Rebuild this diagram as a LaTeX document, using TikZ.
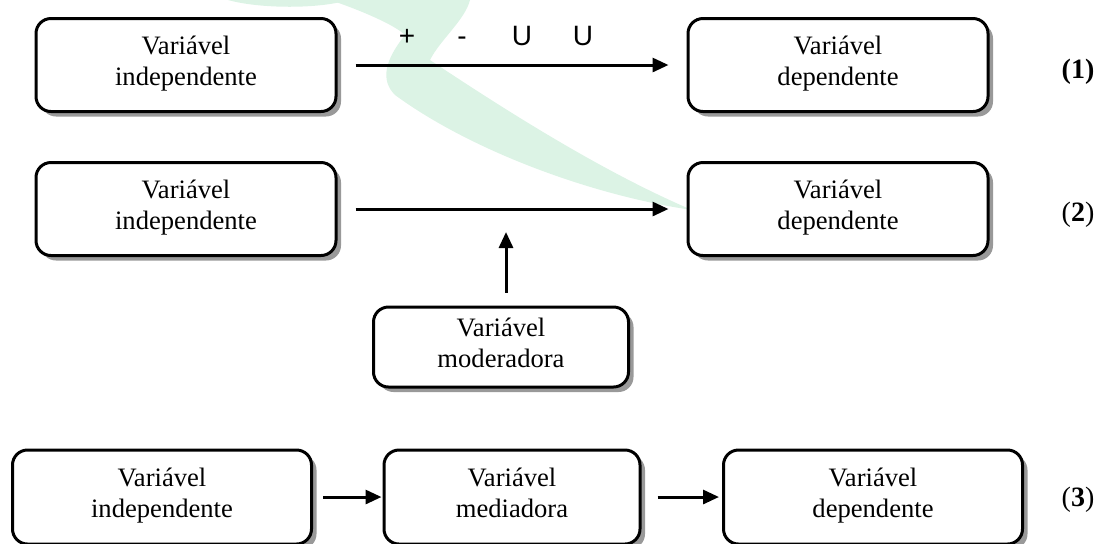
\documentclass[tikz,border=0pt]{standalone}
\usepackage{fontspec}
\setmainfont{Liberation Serif}
\newfontfamily\signfont{Liberation Sans}
\usetikzlibrary{positioning, shadows, arrows.meta}
\definecolor{wmgreen}{RGB}{220,243,229}

\begin{document}
\begin{tikzpicture}[x=0.5pt, y=-0.5pt,
    var/.style={draw, line width=1.5pt, rounded corners=7.5pt, fill=white, align=center,
      font=\fontsize{13.3}{15.5}\selectfont, inner sep=0pt,
      execute at begin node=\strut, execute at end node=\strut,
      drop shadow={shadow xshift=2.5pt, shadow yshift=-2.5pt, fill=black!40, opacity=1}},
    wide/.style={minimum width=150pt, minimum height=46.5pt},
    link/.style={-{Triangle[length=8pt, width=7pt]}, line width=1.5pt},
    sign/.style={font=\signfont\fontsize{14}{16}\selectfont, anchor=base, inner sep=0pt},
    tag/.style={font=\fontsize{14}{16}\selectfont}]
      \useasboundingbox (0,0) rectangle (1102,543);

      % watermark in the background
      \fill[wmgreen] (228,0) .. controls (260,9) and (320,9) .. (348,0) -- cycle;
      \fill[wmgreen] (330,0) -- (470,0) .. controls (465,20) and (440,40) .. (430,60)
        .. controls (520,120) and (610,175) .. (692,210)
        .. controls (590,195) and (470,150) .. (395,95)
        .. controls (380,80) and (385,60) .. (405,35)
        .. controls (395,25) and (360,10) .. (330,0) -- cycle;

      % (1)
      \node[var, wide] (iv1) at (186,65) {Variável\\independente};
      \node[var, wide] (dv1) at (838,65) {Variável\\dependente};
      \draw[link, shorten <=9pt, shorten >=9pt] (iv1) -- (dv1);
      \foreach \s/\x in {+/407, -/462, U/522, U/583}
        \node[sign] (sign\x) at (\x,45) {\s};
      \node[tag] (t1) at (1078,72) {\textbf{(1)}};

      % (2)
      \node[var, wide] (iv2) at (186,209) {Variável\\independente};
      \node[var, wide] (dv2) at (838,209) {Variável\\dependente};
      \draw[link, shorten <=9pt, shorten >=9pt] (iv2) -- (dv2);
      \node[var, minimum width=127.5pt, minimum height=40pt] (mod) at (501,347) {Variável\\moderadora};
      \coordinate (mtip) at (506,232);
      \draw[link, shorten <=6.5pt] (mod.north -| mtip) -- (mtip);
      \node[tag] (t2) at (1078,215) {(\textbf{2})};

      % (3)
      \node[var, minimum width=149.5pt, minimum height=47pt] (iv3) at (162,497) {Variável\\independente};
      \node[var, minimum width=128pt, minimum height=47pt] (med) at (512,497) {Variável\\mediadora};
      \node[var, minimum width=149.5pt, minimum height=47pt] (dv3) at (873,497) {Variável\\dependente};
      \draw[link, shorten <=5pt, shorten >=0.5pt] (iv3) -- (med);
      \draw[link, shorten <=8pt, shorten >=1.5pt] (med) -- (dv3);
      \node[tag] (t3) at (1078,500) {(\textbf{3})};
\end{tikzpicture}
\end{document}
